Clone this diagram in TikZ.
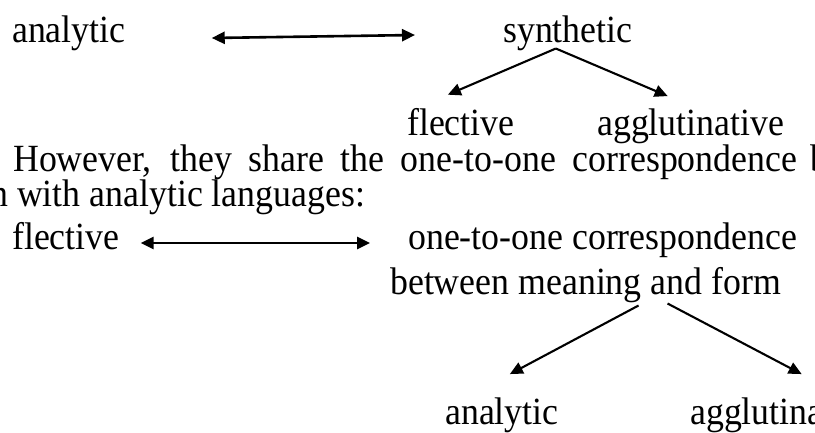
\documentclass[tikz,border=0pt]{standalone}
\usepackage{fontspec}
\setmainfont{Liberation Serif}[FakeStretch=0.93]
\usetikzlibrary{arrows.meta}

\begin{document}
\begin{tikzpicture}[x=1pt,y=1pt,>={Triangle[length=13pt,width=12pt]}]
  \tikzstyle{every node}=[inner sep=0pt,anchor=base west,font=\fontsize{38.5}{44}\selectfont]
  \tikzstyle{link}=[->,line width=2.1pt]
  \tikzstyle{twoway}=[<->,line width=2.6pt]
  \useasboundingbox (0,0) rectangle (815,-432);

  % first scheme
  \node (ana1) at (12,-42) {analytic};
  \node (syn) at (503,-42) {synthetic};
  \node (flec1) at (407,-135) {flective};
  \node (agg1) at (597,-135) {agglutinative};

  % text lines
  \node (par1) at (13,-171) {\makebox[784pt][s]{However, they share the one-to-one correspondence}};
  \node (par1b) at (810,-171) {b};
  \node (par2) at (-10,-206) {n with analytic languages:};

  % second scheme
  \node (flec2) at (12,-249) {flective};
  \node (ooc) at (408,-249) {one-to-one correspondence};
  \node (bmf) at (390,-294) {between meaning and form};
  \node (ana2) at (445,-424) {analytic};
  \node (agg2) at (690,-424) {agglutinative};

  \draw[twoway] ([shift={(86,4)}]ana1.base east) -- ([shift={(-88,7)}]syn.base west);
  \draw[link] ([shift={(-12,2)}]syn.south) -- ([shift={(-13,13)}]flec1.north);
  \draw[link] ([shift={(-12,2)}]syn.south) -- ([shift={(-23,12)}]agg1.north);

  \draw[twoway] ([shift={(21,6)}]flec2.base east) -- ([shift={(-38,6)}]ooc.base west);
  \draw[link] ([shift={(53,-3)}]bmf.south) -- ([shift={(8,23)}]ana2.north);
  \draw[link] ([shift={(82,-1)}]bmf.south) -- ([shift={(18,23)}]agg2.north);
\end{tikzpicture}
\end{document}
